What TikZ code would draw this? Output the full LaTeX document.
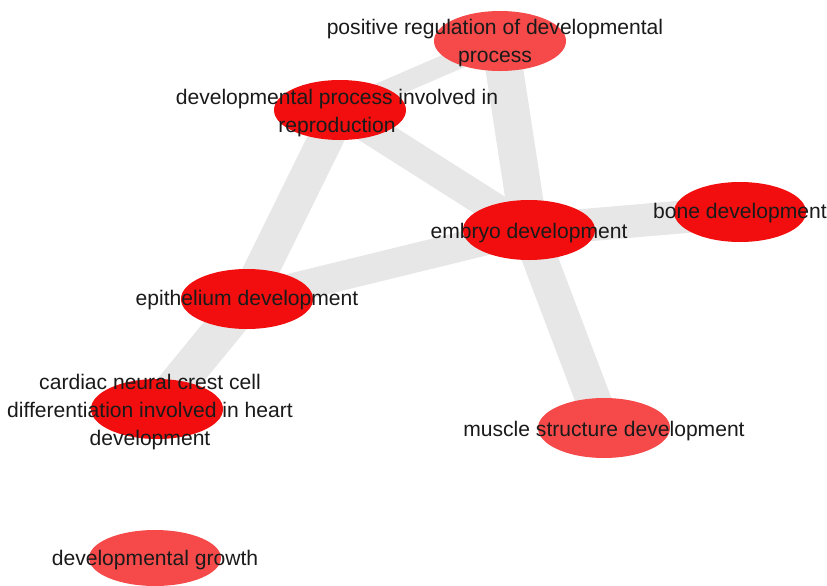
\documentclass[tikz,border=0pt]{standalone}
\usepackage{fontspec}
\setmainfont{Liberation Sans}
\usetikzlibrary{shapes.geometric,backgrounds}
\definecolor{termred}{RGB}{242,14,14}
\definecolor{termlight}{RGB}{246,74,74}
\definecolor{linkgray}{RGB}{231,231,231}
\definecolor{textgray}{RGB}{26,26,26}
\begin{document}
\begin{tikzpicture}
          [x=0.03cm,y=-0.03cm,
          font=\fontsize{18}{23.8}\selectfont,
          term/.style={shape=ellipse,fill=termred,inner sep=0pt,minimum width=3.96cm,minimum height=1.8cm},
          light/.style={term,fill=termlight},
          txt/.style={text=textgray,align=center,inner sep=0pt},
          link/.style={draw=linkgray,line width=30pt},
          thin link/.style={draw=linkgray,line width=17pt}]

            \useasboundingbox (0,0) rectangle (827,586);

            \node (pos) [light] at (500,41) [label = {[txt,xshift=-0.15cm,yshift=-0.06cm]center:positive regulation of developmental\\process}] {};
            \node (repro) [term] at (340,110) [label = {[txt,xshift=-0.09cm,yshift=-0.1cm]center:developmental process involved in\\reproduction}] {};
            \node (embryo) [term] at (529,230) [label = {[txt,yshift=-0.1cm]center:embryo development}] {};
            \node (bone) [term] at (740,212) [label = {[txt,yshift=-0.03cm]center:bone development}] {};
            \node (epi) [term] at (247,299) [label = {[txt,yshift=-0.03cm]center:epithelium development}] {};
            \node (cardiac) [term] at (157,409) [label = {[txt,xshift=-0.21cm,yshift=-0.09cm]center:cardiac neural crest cell\\differentiation involved in heart\\development}] {};
            \node (muscle) [light] at (604,428) [label = {[txt,yshift=-0.09cm]center:muscle structure development}] {};
            \node (growth) [light,minimum height=1.68cm] at (155,558) [label = {[txt,yshift=-0.06cm]center:developmental growth}] {};

          \begin{pgfonlayer}{background}
          \draw [thin link] (pos.center) to (repro.center);
            \draw [link,line width=32pt] (pos.center) to (embryo.center);
            \draw [link,line width=26pt] (repro.center) to (embryo.center);
            \draw [link] (repro.center) to (epi.center);
            \draw [link,line width=25pt] (epi.center) to (embryo.center);
            \draw [link,line width=32pt] (epi.center) to (cardiac.center);
            \draw [link,line width=28pt] (embryo.center) to (bone.center);
            \draw [link] (embryo.center) to (muscle.center);
          \end{pgfonlayer}

        \end{tikzpicture}
\end{document}
